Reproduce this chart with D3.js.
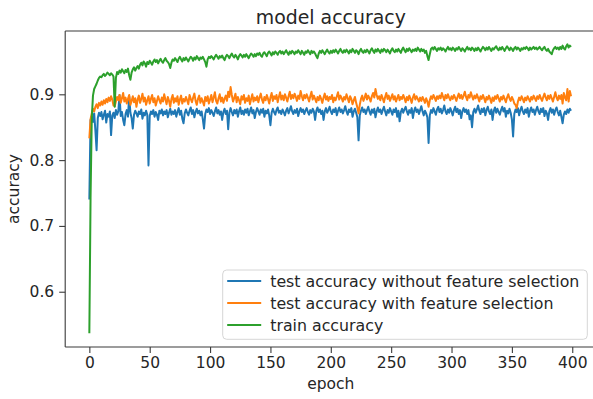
<!DOCTYPE html>
<html>
<head>
<meta charset="utf-8">
<script src="https://cdn.jsdelivr.net/npm/d3@7"></script>
<style>
  body { margin: 0; background: #fff; }
  svg text { font-family: "DejaVu Sans", sans-serif; fill: #262626; }
</style>
</head>
<body>
<div id="chart"></div>
<script>
// per-epoch accuracies (epochs 0..399)
var trainAcc = [
  0.537,0.742,0.862,0.898,0.908,0.912,0.916,0.921,0.925,0.927,
  0.926,0.929,0.931,0.928,0.930,0.933,0.931,0.929,0.932,0.930,
  0.927,0.881,0.925,0.934,0.931,0.936,0.933,0.938,0.935,0.932,
  0.937,0.934,0.939,0.929,0.922,0.933,0.938,0.941,0.936,0.940,
  0.943,0.939,0.945,0.948,0.944,0.950,0.947,0.942,0.949,0.946,
  0.951,0.948,0.945,0.950,0.953,0.949,0.952,0.947,0.951,0.954,
  0.950,0.948,0.952,0.955,0.951,0.949,0.946,0.940,0.948,0.953,
  0.951,0.955,0.952,0.949,0.954,0.957,0.953,0.950,0.955,0.952,
  0.956,0.953,0.950,0.954,0.957,0.955,0.951,0.956,0.953,0.958,
  0.955,0.952,0.956,0.954,0.957,0.953,0.949,0.942,0.953,0.957,
  0.955,0.958,0.956,0.953,0.957,0.960,0.957,0.954,0.958,0.956,
  0.959,0.955,0.952,0.957,0.960,0.958,0.955,0.959,0.962,0.958,
  0.956,0.960,0.957,0.953,0.958,0.961,0.959,0.956,0.960,0.957,
  0.961,0.958,0.955,0.959,0.962,0.960,0.957,0.961,0.958,0.962,
  0.960,0.963,0.959,0.957,0.962,0.964,0.961,0.958,0.963,0.965,
  0.962,0.959,0.964,0.961,0.965,0.963,0.960,0.964,0.966,0.962,
  0.965,0.961,0.964,0.967,0.963,0.960,0.965,0.962,0.966,0.964,
  0.961,0.965,0.963,0.967,0.964,0.961,0.966,0.963,0.960,0.965,
  0.963,0.967,0.964,0.961,0.966,0.963,0.965,0.962,0.958,0.955,
  0.962,0.966,0.963,0.967,0.964,0.961,0.965,0.968,0.964,0.962,
  0.966,0.963,0.967,0.964,0.968,0.965,0.962,0.966,0.969,0.965,
  0.963,0.967,0.964,0.968,0.965,0.962,0.967,0.964,0.969,0.966,
  0.963,0.967,0.965,0.961,0.966,0.969,0.965,0.963,0.967,0.964,
  0.968,0.965,0.962,0.967,0.970,0.966,0.963,0.968,0.965,0.969,
  0.966,0.963,0.968,0.965,0.969,0.967,0.964,0.968,0.965,0.962,
  0.967,0.970,0.966,0.964,0.968,0.965,0.969,0.966,0.963,0.968,
  0.971,0.967,0.964,0.969,0.966,0.970,0.967,0.964,0.968,0.966,
  0.969,0.966,0.971,0.968,0.965,0.969,0.966,0.968,0.963,0.966,
  0.958,0.952,0.961,0.969,0.971,0.968,0.972,0.969,0.966,0.970,
  0.968,0.971,0.967,0.970,0.968,0.965,0.969,0.972,0.968,0.970,
  0.967,0.971,0.969,0.966,0.970,0.968,0.972,0.969,0.966,0.970,
  0.968,0.965,0.969,0.972,0.968,0.970,0.967,0.971,0.969,0.966,
  0.970,0.967,0.971,0.968,0.965,0.969,0.972,0.970,0.967,0.971,
  0.968,0.972,0.969,0.966,0.970,0.968,0.971,0.973,0.969,0.967,
  0.971,0.968,0.972,0.969,0.966,0.970,0.973,0.970,0.967,0.971,
  0.969,0.966,0.970,0.972,0.968,0.971,0.969,0.966,0.970,0.968,
  0.971,0.969,0.972,0.970,0.967,0.971,0.968,0.970,0.972,0.969,
  0.971,0.968,0.970,0.972,0.969,0.967,0.970,0.972,0.968,0.966,
  0.969,0.965,0.963,0.961,0.967,0.970,0.972,0.969,0.971,0.968,
  0.972,0.969,0.974,0.970,0.968,0.973,0.976,0.971,0.974,0.972
];

var testAccFS = [
  0.833,0.862,0.871,0.878,0.874,0.881,0.885,0.879,0.887,0.883,
  0.889,0.884,0.891,0.886,0.893,0.888,0.895,0.890,0.897,0.892,
  0.883,0.882,0.889,0.896,0.891,0.899,0.887,0.894,0.902,0.889,
  0.895,0.886,0.893,0.899,0.884,0.890,0.897,0.888,0.894,0.881,
  0.892,0.898,0.887,0.893,0.901,0.889,0.895,0.884,0.891,0.897,
  0.886,0.893,0.899,0.888,0.894,0.883,0.890,0.897,0.891,0.886,
  0.895,0.889,0.900,0.892,0.885,0.896,0.890,0.881,0.893,0.899,
  0.887,0.894,0.889,0.897,0.884,0.892,0.898,0.886,0.893,0.889,
  0.896,0.891,0.885,0.899,0.893,0.888,0.895,0.901,0.890,0.884,
  0.893,0.898,0.887,0.894,0.889,0.883,0.896,0.890,0.897,0.886,
  0.892,0.899,0.888,0.895,0.903,0.890,0.886,0.894,0.900,0.889,
  0.895,0.887,0.893,0.898,0.890,0.904,0.896,0.911,0.899,0.889,
  0.894,0.901,0.888,0.896,0.891,0.885,0.897,0.892,0.899,0.887,
  0.894,0.890,0.898,0.885,0.893,0.900,0.889,0.895,0.891,0.897,
  0.888,0.895,0.901,0.892,0.887,0.896,0.891,0.899,0.893,0.886,
  0.895,0.902,0.890,0.897,0.893,0.899,0.888,0.896,0.903,0.892,
  0.898,0.891,0.900,0.895,0.889,0.897,0.904,0.893,0.899,0.894,
  0.901,0.896,0.890,0.898,0.893,0.905,0.897,0.891,0.899,0.894,
  0.900,0.895,0.889,0.897,0.904,0.892,0.898,0.893,0.888,0.896,
  0.891,0.898,0.893,0.887,0.895,0.901,0.892,0.897,0.890,0.896,
  0.893,0.899,0.888,0.895,0.891,0.897,0.903,0.892,0.898,0.894,
  0.889,0.896,0.892,0.900,0.894,0.888,0.897,0.893,0.885,0.891,
  0.896,0.887,0.880,0.871,0.884,0.893,0.898,0.890,0.895,0.901,
  0.892,0.898,0.894,0.889,0.897,0.902,0.895,0.908,0.899,0.893,
  0.897,0.891,0.899,0.894,0.888,0.896,0.902,0.893,0.898,0.890,
  0.895,0.900,0.892,0.897,0.889,0.894,0.899,0.891,0.896,0.893,
  0.899,0.894,0.888,0.896,0.891,0.898,0.893,0.887,0.895,0.900,
  0.892,0.897,0.893,0.889,0.895,0.890,0.896,0.892,0.887,0.894,
  0.889,0.881,0.891,0.897,0.893,0.899,0.895,0.890,0.897,0.893,
  0.898,0.894,0.902,0.896,0.891,0.899,0.894,0.900,0.895,0.891,
  0.897,0.893,0.899,0.895,0.890,0.896,0.901,0.894,0.899,0.893,
  0.898,0.904,0.896,0.891,0.899,0.895,0.903,0.897,0.892,0.898,
  0.894,0.900,0.895,0.889,0.897,0.893,0.899,0.894,0.888,0.896,
  0.892,0.898,0.893,0.887,0.895,0.890,0.897,0.893,0.899,0.894,
  0.889,0.896,0.892,0.898,0.893,0.888,0.895,0.900,0.894,0.890,
  0.896,0.892,0.886,0.884,0.879,0.889,0.895,0.891,0.897,0.893,
  0.888,0.895,0.891,0.897,0.893,0.889,0.896,0.892,0.898,0.894,
  0.890,0.897,0.893,0.899,0.894,0.890,0.896,0.901,0.895,0.891,
  0.898,0.893,0.899,0.894,0.889,0.896,0.903,0.895,0.891,0.898,
  0.893,0.899,0.886,0.902,0.895,0.891,0.908,0.889,0.905,0.897
];

var testAccNoFS = [
  0.740,0.861,0.866,0.858,0.871,0.845,0.815,0.864,0.872,0.867,
  0.873,0.862,0.869,0.875,0.857,0.870,0.866,0.874,0.838,0.868,
  0.872,0.864,0.876,0.869,0.874,0.899,0.867,0.873,0.861,0.853,
  0.870,0.876,0.866,0.897,0.872,0.864,0.848,0.869,0.875,0.871,
  0.866,0.874,0.870,0.877,0.863,0.872,0.868,0.875,0.869,0.792,
  0.867,0.874,0.870,0.876,0.866,0.873,0.869,0.861,0.875,0.871,
  0.877,0.868,0.874,0.870,0.876,0.865,0.872,0.878,0.869,0.874,
  0.870,0.876,0.866,0.873,0.879,0.869,0.875,0.863,0.856,0.871,
  0.877,0.872,0.868,0.875,0.880,0.870,0.876,0.865,0.873,0.878,
  0.871,0.875,0.868,0.874,0.862,0.848,0.870,0.877,0.873,0.879,
  0.870,0.876,0.872,0.867,0.874,0.880,0.871,0.876,0.869,0.874,
  0.861,0.873,0.878,0.870,0.875,0.847,0.872,0.879,0.873,0.868,
  0.876,0.871,0.877,0.866,0.874,0.880,0.870,0.875,0.869,0.877,
  0.872,0.878,0.868,0.874,0.880,0.871,0.876,0.864,0.873,0.879,
  0.874,0.869,0.877,0.872,0.878,0.866,0.875,0.871,0.877,0.868,
  0.853,0.872,0.878,0.873,0.869,0.876,0.880,0.872,0.875,0.870,
  0.877,0.873,0.868,0.875,0.879,0.871,0.876,0.882,0.874,0.870,
  0.876,0.872,0.878,0.867,0.874,0.879,0.873,0.877,0.870,0.875,
  0.879,0.873,0.869,0.876,0.872,0.878,0.874,0.861,0.875,0.880,
  0.873,0.877,0.870,0.875,0.861,0.874,0.879,0.872,0.876,0.881,
  0.874,0.870,0.877,0.873,0.879,0.868,0.875,0.880,0.873,0.877,
  0.871,0.876,0.882,0.874,0.869,0.877,0.873,0.879,0.866,0.874,
  0.878,0.872,0.865,0.830,0.868,0.875,0.880,0.873,0.877,0.870,
  0.876,0.881,0.874,0.869,0.877,0.872,0.878,0.865,0.874,0.880,
  0.873,0.877,0.870,0.876,0.881,0.874,0.868,0.876,0.872,0.879,
  0.874,0.869,0.877,0.873,0.879,0.866,0.875,0.859,0.873,0.878,
  0.872,0.877,0.881,0.874,0.869,0.876,0.872,0.879,0.864,0.875,
  0.880,0.873,0.877,0.870,0.876,0.882,0.874,0.868,0.875,0.871,
  0.865,0.826,0.868,0.876,0.872,0.879,0.874,0.869,0.877,0.881,
  0.873,0.878,0.871,0.876,0.883,0.874,0.870,0.877,0.872,0.879,
  0.874,0.868,0.876,0.881,0.873,0.878,0.870,0.876,0.864,0.874,
  0.879,0.873,0.877,0.870,0.876,0.862,0.868,0.850,0.873,0.878,
  0.872,0.877,0.883,0.875,0.870,0.878,0.873,0.879,0.868,0.876,
  0.881,0.874,0.870,0.877,0.861,0.875,0.880,0.872,0.878,0.873,
  0.869,0.876,0.881,0.874,0.879,0.866,0.875,0.871,0.878,0.872,
  0.862,0.836,0.870,0.877,0.873,0.879,0.868,0.876,0.881,0.874,
  0.870,0.877,0.872,0.879,0.866,0.875,0.880,0.873,0.877,0.869,
  0.876,0.881,0.874,0.870,0.878,0.873,0.879,0.867,0.875,0.871,
  0.861,0.874,0.879,0.872,0.877,0.869,0.876,0.880,0.873,0.868,
  0.875,0.866,0.856,0.869,0.874,0.870,0.877,0.872,0.878,0.875
];

var seriesNames = [
  "test accuracy without feature selection",
  "test accuracy with feature selection",
  "train accuracy"
];
var seriesColors = ["#1f77b4", "#ff7f0e", "#2ca02c"];
var xTicks = [0, 50, 100, 150, 200, 250, 300, 350, 400];
var yTicks = [0.6, 0.7, 0.8, 0.9];

(function () {
  var width = 593, height = 399;
  // axes box; the right edge falls just outside the picture, as in the original
  var axLeft = 65.2, axRight = 596.4, axTop = 31, axBottom = 347;

  var svg = d3.select("#chart").append("svg")
      .attr("width", width)
      .attr("height", height);

  svg.append("rect")
      .attr("width", width)
      .attr("height", height)
      .attr("fill", "#fff");

  var x = d3.scaleLinear().domain([-20, 420]).range([axLeft, axRight]);
  var y = d3.scaleLinear().domain([0.516, 0.9962]).range([axBottom, axTop]);

  var line = d3.line()
      .x(function (d, i) { return x(i); })
      .y(function (d) { return y(d); });

  // lines in matplotlib plot order: blue, orange, green
  var allSeries = [testAccNoFS, testAccFS, trainAcc];
  svg.append("g")
      .selectAll("path")
      .data(allSeries)
      .enter()
      .append("path")
      .attr("d", line)
      .attr("fill", "none")
      .attr("stroke", function (d, i) { return seriesColors[i]; })
      .attr("stroke-width", 2)
      .attr("stroke-linejoin", "round");

  // spines
  var frame = svg.append("g").attr("stroke", "#3a3a3a").attr("stroke-width", 1.1);
  frame.append("line").attr("x1", axLeft).attr("x2", axLeft).attr("y1", axTop).attr("y2", axBottom);
  frame.append("line").attr("x1", axLeft).attr("x2", width).attr("y1", axBottom).attr("y2", axBottom);
  frame.append("line").attr("x1", axLeft).attr("x2", width).attr("y1", axTop).attr("y2", axTop);

  var xAxis = svg.append("g")
      .attr("transform", "translate(0," + axBottom + ")")
      .call(d3.axisBottom(x).tickValues(xTicks).tickSize(6).tickPadding(4).tickFormat(d3.format("d")));
  var yAxis = svg.append("g")
      .attr("transform", "translate(" + axLeft + ",0)")
      .call(d3.axisLeft(y).tickValues(yTicks).tickSize(6).tickPadding(5).tickFormat(d3.format(".1f")));

  [xAxis, yAxis].forEach(function (ax) {
    ax.select(".domain").remove();
    ax.selectAll(".tick line").attr("stroke", "#3a3a3a").attr("stroke-width", 1.1);
    ax.selectAll(".tick text")
        .attr("font-size", 15.5)
        .attr("font-family", "DejaVu Sans")
        .attr("fill", "#262626");
  });

  svg.append("text")
      .attr("x", (axLeft + axRight) / 2)
      .attr("y", 24)
      .attr("text-anchor", "middle")
      .attr("font-size", 18.9)
      .text("model accuracy");

  svg.append("text")
      .attr("x", (axLeft + axRight) / 2)
      .attr("y", 389)
      .attr("text-anchor", "middle")
      .attr("font-size", 15.5)
      .text("epoch");

  svg.append("text")
      .attr("transform", "translate(19," + (axTop + axBottom) / 2 + ") rotate(-90)")
      .attr("text-anchor", "middle")
      .attr("font-size", 15.5)
      .text("accuracy");

  // legend, lower right
  var legend = svg.append("g").attr("transform", "translate(222.7,270)");
  legend.append("rect")
      .attr("width", 364.6)
      .attr("height", 69.3)
      .attr("rx", 4)
      .attr("fill", "#fff")
      .attr("fill-opacity", 0.8)
      .attr("stroke", "#d6d6d6");

  var item = legend.selectAll(".item")
      .data(seriesNames)
      .enter()
      .append("g")
      .attr("class", "item")
      .attr("transform", function (d, i) { return "translate(0," + (11 + i * 22) + ")"; });

  item.append("line")
      .attr("x1", 4.5).attr("x2", 38.5)
      .attr("stroke", function (d, i) { return seriesColors[i]; })
      .attr("stroke-width", 2);

  item.append("text")
      .attr("x", 47.5)
      .attr("y", 5.5)
      .attr("font-size", 15.8)
      .text(function (d) { return d; });
})();
</script>
</body>
</html>
